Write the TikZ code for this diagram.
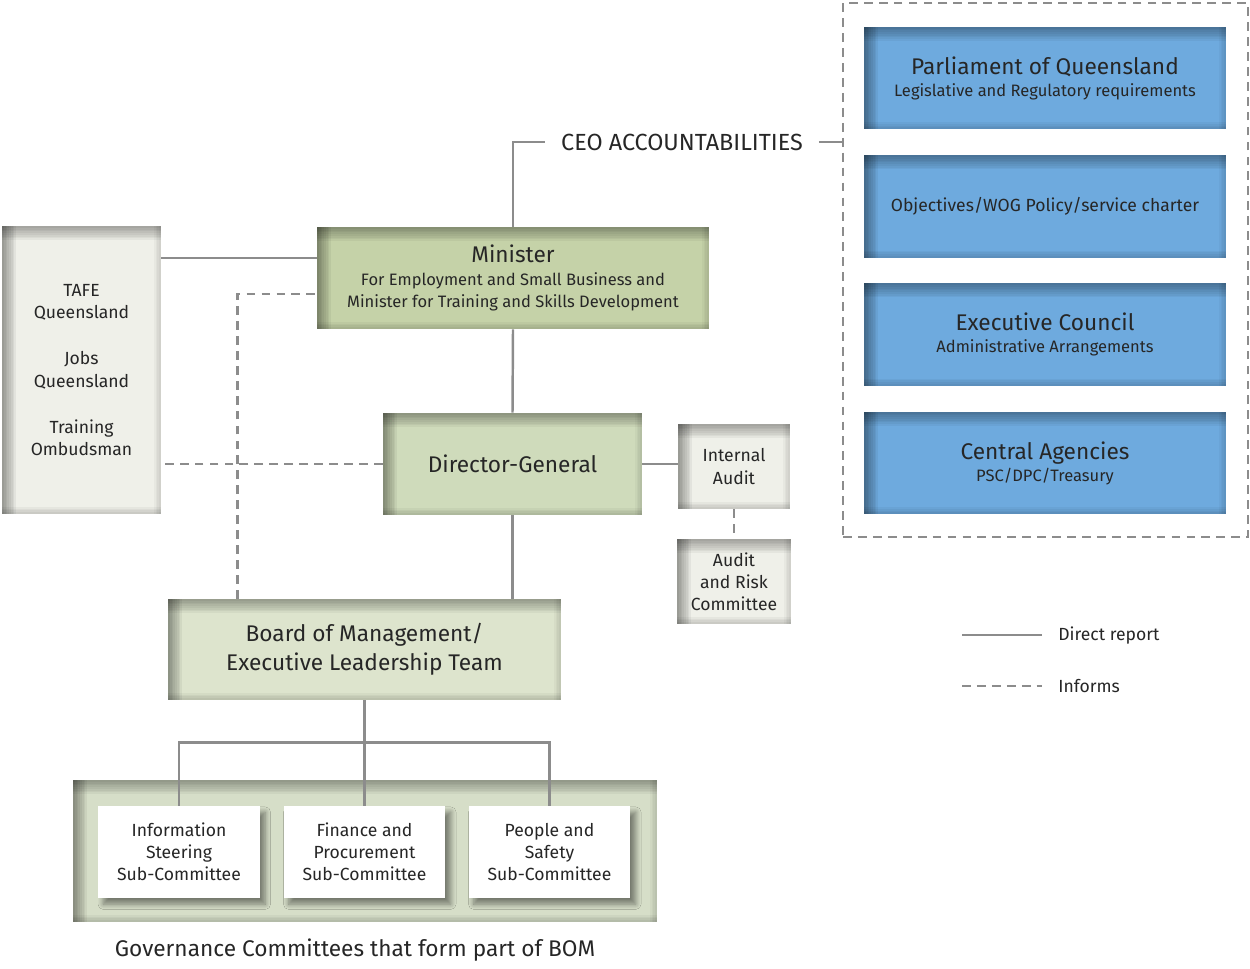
\documentclass[tikz,border=0pt]{standalone}
\usepackage{fontspec}
\setmainfont{Fira Sans}
\usetikzlibrary{calc,shadows.blur}

\definecolor{boxblue}{RGB}{110,170,222}
\definecolor{mingreen}{RGB}{197,210,168}
\definecolor{dggreen}{RGB}{207,219,187}
\definecolor{bomgreen}{RGB}{221,228,205}
\definecolor{paleface}{RGB}{239,240,233}
\definecolor{basegreen}{RGB}{214,222,200}
\definecolor{linegray}{RGB}{140,140,140}

\newcommand{\bigtxt}{\fontsize{12.9}{14.5}\selectfont}
\newcommand{\subtxt}{\fontsize{9.4}{12.5}\selectfont}
\newcommand{\smalltxt}{\fontsize{10}{12.6}\selectfont}

\tikzset{
  rim/.style = {path picture={
      \foreach \k in {1,...,8}{
        \fill[black, opacity=0.045] (path picture bounding box.north west)
          rectangle ([yshift=-\k pt]path picture bounding box.north east);
        \fill[black, opacity=0.05] (path picture bounding box.north west)
          rectangle ([xshift=\k pt]path picture bounding box.south west);
      }
      \foreach \k in {1,...,4}{
        \fill[black, opacity=0.04] (path picture bounding box.south west)
          rectangle ([yshift=\k pt]path picture bounding box.south east);
        \fill[black, opacity=0.03] (path picture bounding box.north east)
          rectangle ([xshift=-\k pt]path picture bounding box.south east);
      }
    }},
  unit/.style = {align=center, inner sep=0pt, text=black!85, font=\smalltxt},
  bluebox/.style = {unit, fill=boxblue, rim, minimum width=7.24cm, minimum height=2.05cm},
  greenbox/.style = {unit, fill=#1, rim},
  palebox/.style = {unit, fill=paleface, rim},
  subbox/.style = {unit, fill=white, minimum width=3.24cm, minimum height=1.84cm,
    blur shadow={shadow xshift=3pt, shadow yshift=-3.5pt, shadow blur steps=8,
      shadow opacity=45, shadow blur radius=3pt}},
  report/.style = {draw=linegray, line width=1.4pt},
  informs/.style = {report, dash pattern=on 5pt off 3.5pt}
}

\begin{document}
\begin{tikzpicture}[x=0.02cm, y=-0.02cm]
  \useasboundingbox (0,0) rectangle (1250,969);

  % accountabilities
  \node[informs, minimum width=8.1cm, minimum height=10.68cm] (acc) at (1045.5,270) {};
  \node[bluebox] (parl) at (1045,78)
    {{\bigtxt Parliament of Queensland}\\\subtxt Legislative and Regulatory requirements};
  \node[bluebox] (wog) at (1045,206.5) {Objectives/WOG Policy/service charter};
  \node[bluebox] (exc) at (1045,334.5)
    {{\bigtxt Executive Council}\\\subtxt Administrative Arrangements};
  \node[bluebox] (cen) at (1045,463)
    {{\bigtxt Central Agencies}\\\subtxt PSC/DPC/Treasury};
  \node[font=\fontsize{13.3}{15}\selectfont, text=black!85, inner xsep=9pt, inner ysep=0pt] (ceo) at (682,142)
    {CEO ACCOUNTABILITIES};

  % portfolio
  \node[palebox, font=\fontsize{10}{12.75}\selectfont, minimum width=3.18cm, minimum height=5.76cm] (ent) at (81.5,370)
    {TAFE\\Queensland\\[13.5pt]Jobs\\Queensland\\[13.5pt]Training\\Ombudsman};
  \node[greenbox=mingreen, minimum width=7.84cm, minimum height=2.04cm] (min) at (513,278)
    {{\bigtxt Minister}\\\subtxt For Employment and Small Business and\\\subtxt Minister for Training and Skills Development};
  \node[greenbox=dggreen, font=\bigtxt, minimum width=5.18cm, minimum height=2.04cm] (dg) at (512.5,464)
    {Director-General};
  \node[palebox, minimum width=2.24cm, minimum height=1.7cm] (ia) at (734,466.5)
    {Internal\\Audit};
  \node[palebox, minimum width=2.28cm, minimum height=1.7cm] (arc) at (734,581.5)
    {Audit\\and Risk\\Committee};
  \node[greenbox=bomgreen, font=\bigtxt, minimum width=7.86cm, minimum height=2.02cm] (bom) at (364.5,649.5)
    {Board of Management/\\[2pt]Executive Leadership Team};

  % committees
  \node[greenbox=basegreen, minimum width=11.68cm, minimum height=2.84cm] (gov) at (365,851) {};
  \node[subbox] (c1) at (179,852) {Information\\Steering\\Sub-Committee};
  \node[subbox] (c2) at (364.5,852) {Finance and\\Procurement\\Sub-Committee};
  \node[subbox] (c3) at (549.5,852) {People and\\Safety\\Sub-Committee};
  \node[font=\bigtxt, text=black!85] (govtxt) at (355,950) {Governance Committees that form part of BOM};

  % connectors
  \draw[report] (min.north) |- (ceo.west);
  \draw[report] (ceo.east) -- (ceo.east -| acc.west);
  \coordinate (minL) at ($(min.west)+(0,-20)$);
  \draw[report] (minL) -- (minL -| ent.east);
  \coordinate (bomL) at ($(bom.north west)+(70,0)$);
  \coordinate (minI) at ($(min.west)+(0,16)$);
  \draw[informs] (bomL) |- (minI);
  \draw[informs] (dg.west) -- (dg.west -| ent.east);
  \draw[report] (min.south) -- (dg.north);
  \draw[report] (dg.south) -- (dg.south |- bom.north);
  \draw[report] (dg.east) -- (dg.east -| ia.west);
  \draw[informs] (ia.south) -- (arc.north);
  \coordinate (bar) at ($(bom.south)+(0,42)$);
  \draw[report] (c1.north) |- (bar) -| (c3.north);
  \draw[report] (bom.south) -- (c2.north);

  % legend
  \coordinate (dr1) at (962,635);
  \coordinate (dr2) at (1042,635);
  \coordinate (in1) at (962,686);
  \coordinate (in2) at (1042,686);
  \draw[report] (dr1) -- (dr2);
  \draw[informs] (in1) -- (in2);
  \node[anchor=west, inner xsep=0pt, font=\smalltxt, text=black!85] (drtxt) at (1058,636) {Direct report};
  \node[anchor=west, inner xsep=0pt, font=\smalltxt, text=black!85] (intxt) at (1058,686) {Informs};
\end{tikzpicture}
\end{document}
